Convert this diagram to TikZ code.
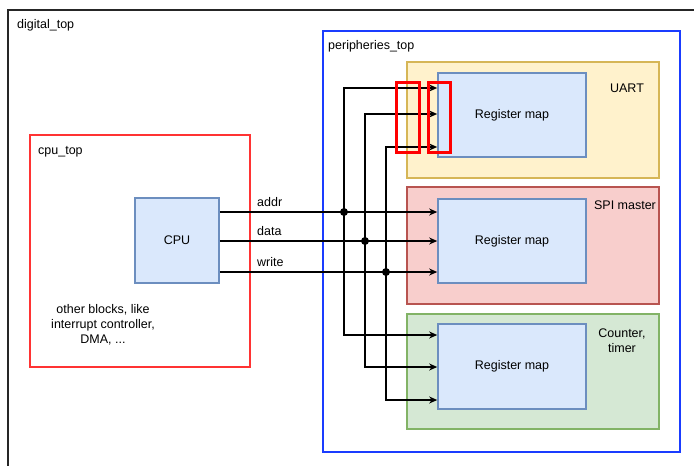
\documentclass[tikz,border=0pt]{standalone}
\usepackage{fontspec}
\setmainfont{Liberation Sans}
\usetikzlibrary{arrows.meta}
\definecolor{yfill}{HTML}{FFF2CC}
\definecolor{ydraw}{HTML}{D6B656}
\definecolor{rfill}{HTML}{F8CECC}
\definecolor{rdraw}{HTML}{B85450}
\definecolor{gfill}{HTML}{D5E8D4}
\definecolor{gdraw}{HTML}{82B366}
\definecolor{bfill}{HTML}{DAE8FC}
\definecolor{bdraw}{HTML}{6C8EBF}
\definecolor{cpured}{HTML}{FF3333}
\definecolor{perblue}{HTML}{1A3CFF}
\definecolor{hired}{HTML}{FF0000}
\begin{document}
\begin{tikzpicture}[x=1pt,y=-1pt,
  every node/.style={font=\fontsize{12.5}{15}\selectfont},
  box/.style={draw, rectangle, inner sep=0pt, line width=1.6pt},
  regbox/.style={box, fill=bfill, draw=bdraw},
  lbl/.style={inner sep=0pt, anchor=west},
  wire/.style={line width=1.25pt, black},
  arr/.style={wire, -{Stealth[length=8pt,width=7pt,inset=2.5pt]}},
  dot/.style={circle, fill=black, inner sep=0pt, minimum size=8pt},
  hilite/.style={draw=hired, line width=3pt, rectangle, inner sep=0pt}]
\useasboundingbox (0,0) rectangle (694,466);
% outer digital_top
\draw[line width=1.6pt, black!85] (8,470) -- (8,10) -- (700,10);
\node[lbl] (tdig) at (17,25) {digital\_top};
% cpu_top
\node[box, draw=cpured, minimum width=220pt, minimum height=232pt] (cputop) at (140,251) {};
\node[lbl] (tcpu) at (38,152) {cpu\_top};
\node[regbox, minimum width=84pt, minimum height=85pt] (cpu) at (177,240.5) {CPU};
\node[align=center, inner sep=0pt] (other) at (103,325) {other blocks, like\\interrupt controller,\\DMA, ...};
% peripheries_top
\node[box, draw=perblue, line width=2pt, minimum width=357pt, minimum height=421pt] (per) at (501.5,241.5) {};
\node[lbl] (tper) at (328,46) {peripheries\_top};
\node[box, fill=yfill, draw=ydraw, minimum width=252pt, minimum height=116pt] (uart) at (533,120) {};
\node[box, fill=rfill, draw=rdraw, minimum width=252pt, minimum height=117pt] (spi) at (533,245.5) {};
\node[box, fill=gfill, draw=gdraw, minimum width=252pt, minimum height=115pt] (ctr) at (533,371.5) {};
\node[regbox, minimum width=148pt, minimum height=84pt] (ureg) at (512,115) {Register map};
\node[regbox, minimum width=148pt, minimum height=84pt] (sreg) at (512,241) {Register map};
\node[regbox, minimum width=148pt, minimum height=85pt] (creg) at (512,366.5) {Register map};
\node[inner sep=0pt] (tuart) at (627,88) {UART};
\node[inner sep=0pt] (tspi) at (625,205) {SPI master};
\node[inner sep=0pt, align=center] (tctr) at (622,340.5) {Counter,\\timer};
% rows
\coordinate (ya) at (0,212);
\coordinate (yd) at (0,241);
\coordinate (yw) at (0,272);
\coordinate (ua) at (0,88);
\coordinate (ud) at (0,114);
\coordinate (uw) at (0,147);
\coordinate (ca) at (0,335);
\coordinate (cd) at (0,367);
\coordinate (cw) at (0,400);
% bus junctions
\node[dot] (ja) at (344,212) {};
\node[dot] (jd) at (365,241) {};
\node[dot] (jw) at (386,272) {};
% horizontal wires
\draw[arr] (cpu.east |- ya) -- (sreg.west |- ya);
\draw[arr] (cpu.east |- yd) -- (sreg.west |- yd);
\draw[arr] (cpu.east |- yw) -- (sreg.west |- yw);
\node[lbl, anchor=south west, inner sep=0pt] (laddr) at (257,207) {addr};
\node[lbl, anchor=south west, inner sep=0pt] (ldata) at (257,236) {data};
\node[lbl, anchor=south west, inner sep=0pt] (lwrite) at (257,267) {write};
% vertical buses
\draw[arr] (ja.center) |- (ureg.west |- ua);
\draw[arr] (ja.center) |- (creg.west |- ca);
\draw[arr] (jd.center) |- (ureg.west |- ud);
\draw[arr] (jd.center) |- (creg.west |- cd);
\draw[arr] (jw.center) |- (ureg.west |- uw);
\draw[arr] (jw.center) |- (creg.west |- cw);
% highlights
\node[hilite, minimum width=23pt, minimum height=70pt] (h1) at (407.5,117) {};
\node[hilite, minimum width=22pt, minimum height=70pt] (h2) at (439,117) {};
\end{tikzpicture}
\end{document}
